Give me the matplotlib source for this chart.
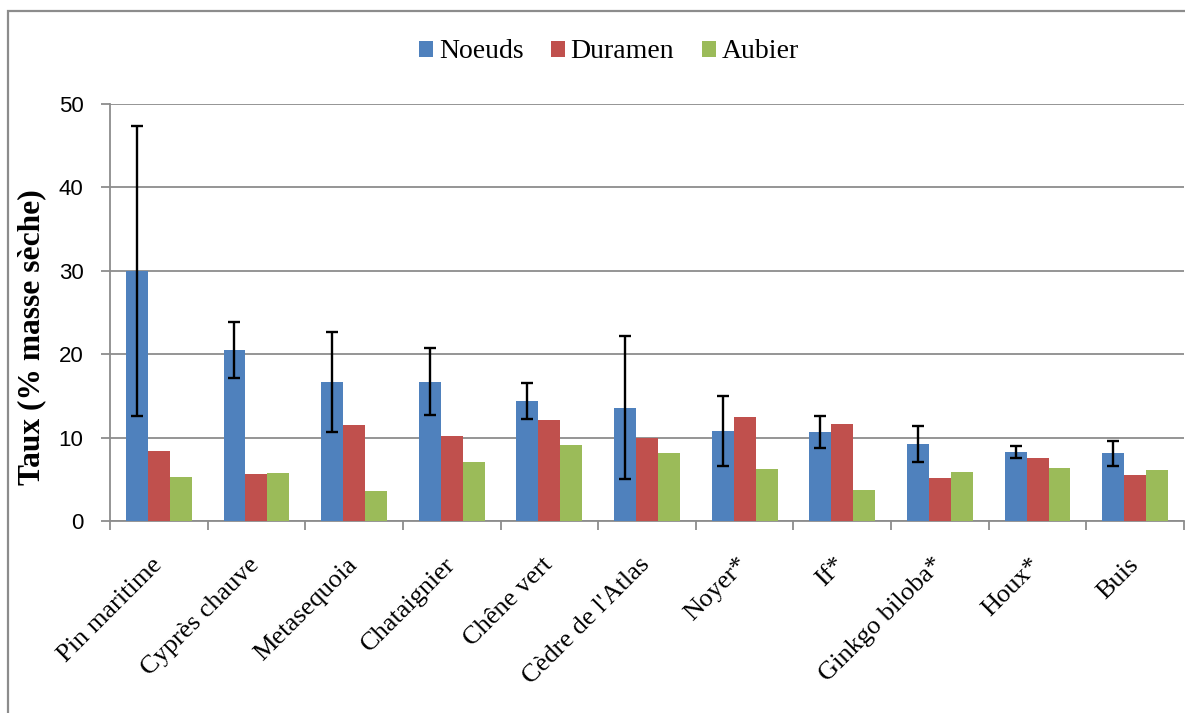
import matplotlib
matplotlib.use("Agg")
import matplotlib.pyplot as plt
import matplotlib.transforms as mtransforms
from matplotlib.patches import Rectangle
from matplotlib.font_manager import FontProperties
import numpy as np

categories = ["Pin maritime", "Cyprès chauve", "Metasequoia", "Chataignier", "Chêne vert",
              "Cèdre de l'Atlas", "Noyer*", "If*", "Ginkgo biloba*", "Houx*", "Buis"]
noeuds = [30.0, 20.5, 16.7, 16.7, 14.4, 13.6, 10.8, 10.7, 9.25, 8.3, 8.15]
noeuds_err = [17.4, 3.4, 6.0, 4.05, 2.15, 8.55, 4.15, 1.9, 2.2, 0.7, 1.5]
duramen = [8.4, 5.6, 11.5, 10.2, 12.1, 9.95, 12.5, 11.65, 5.15, 7.55, 5.5]
aubier = [5.3, 5.75, 3.6, 7.1, 9.1, 8.15, 6.25, 3.7, 5.9, 6.35, 6.1]
series_names = ["Noeuds", "Duramen", "Aubier"]
colors = ["#4F81BD", "#C0504D", "#9BBB59"]
yticks = [0, 10, 20, 30, 40, 50]

W, H = 1185, 713
fig = plt.figure(figsize=(W / 100, H / 100), dpi=100)
ax = fig.add_axes([110 / W, 1 - 521 / H, (1184 - 110) / W, (521 - 104) / H])

# outer chart border
fig.patches.append(Rectangle((8 / W, -0.05), 1.1, 1 - 11 / H + 0.05, transform=fig.transFigure,
                             fill=False, edgecolor="#8c8c8c", linewidth=1.6, zorder=0))

x = np.arange(len(categories))
bw = 0.225
ax.bar(x - bw, noeuds, bw, color=colors[0], label=series_names[0], zorder=3,
       yerr=noeuds_err, error_kw=dict(ecolor="black", elinewidth=1.7, capsize=4.5, capthick=1.7, zorder=4))
ax.bar(x, duramen, bw, color=colors[1], label=series_names[1], zorder=3)
ax.bar(x + bw, aubier, bw, color=colors[2], label=series_names[2], zorder=3)

ax.set_xlim(-0.5, len(categories) - 0.5)
ax.set_ylim(0, 50)
ax.set_yticks(yticks)
ax.set_yticklabels([str(v) for v in yticks], fontsize=16, family="Liberation Sans")
ax.yaxis.grid(True, color="#8c8c8c", linewidth=1.3, zorder=0)
ax.set_axisbelow(True)
for s in ["top", "right"]:
    ax.spines[s].set_visible(False)
for s in ["left", "bottom"]:
    ax.spines[s].set_color("#8c8c8c")
    ax.spines[s].set_linewidth(1.3)
ax.tick_params(axis="y", direction="out", length=6.5, width=1.3, color="#8c8c8c", pad=12.5)

ax.set_xticks(x)
ax.set_xticks(np.arange(-0.5, len(categories), 1.0), minor=True)
ax.tick_params(axis="x", which="major", length=0, pad=7)
ax.tick_params(axis="x", which="minor", length=6.5, width=1.3, color="#8c8c8c", direction="out")
offset = mtransforms.ScaledTranslation(-8 / 100, -23 / 100, fig.dpi_scale_trans)
ax.set_xticklabels(categories, rotation=45, ha="right", va="top", rotation_mode="anchor",
                   fontsize=19, family="Liberation Serif")
for lbl in ax.get_xticklabels():
    lbl.set_transform(lbl.get_transform() + offset)

fig.text(32 / W, 1 - 337 / H, "Taux (% masse sèche)", rotation=90, ha="center", va="center",
         fontsize=22.7, fontweight="bold", family="Liberation Serif")

leg = fig.legend(loc="center", bbox_to_anchor=(609 / W, 1 - 52 / H), ncol=3, frameon=False,
                 prop=FontProperties(family="Liberation Serif", size=20), handlelength=0.5,
                 handleheight=0.5, handletextpad=0.2, columnspacing=1.0)
for t in leg.get_texts():
    t.set_fontfamily("Liberation Serif")

fig.savefig("out.png", dpi=100)
